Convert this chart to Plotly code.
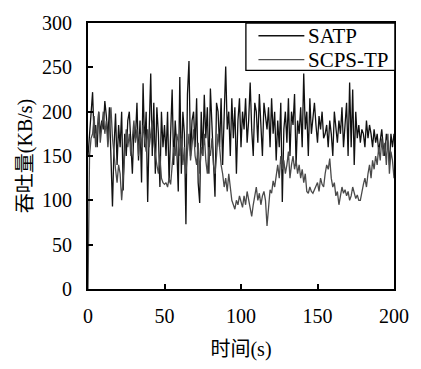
import plotly.graph_objects as go

time_s = list(range(0, 201))

satp = [
    150, 175, 205, 222, 170, 185, 160, 200, 175, 190,
    180, 212, 195, 170, 205, 150, 93, 160, 198, 140,
    185, 160, 200, 111, 175, 150, 190, 200, 165, 130,
    180, 170, 210, 145, 190, 120, 232, 160, 200, 98,
    180, 243, 150, 210, 130, 205, 175, 115, 200, 160,
    185, 150, 200, 120, 175, 225, 140, 190, 160, 110,
    239, 130, 200, 175, 73, 220, 257, 150, 190, 200,
    160, 215, 120, 97, 200, 150, 219, 170, 205, 130,
    226, 180, 150, 104, 210, 200, 160, 215, 140, 190,
    251, 180, 200, 150, 215, 170, 205, 130, 190, 215,
    160, 200, 180, 215, 165, 190, 233, 180, 150, 210,
    200, 165, 220, 185, 150, 210, 195, 180, 205, 160,
    215, 175, 200, 145, 190, 160, 210, 98, 180, 200,
    165, 215, 150, 200, 185, 220, 140, 190, 175, 205,
    160, 243, 180, 200, 150, 215, 175, 190, 210, 185,
    165, 195, 180, 200, 170, 175, 185, 160, 190, 175,
    150, 200, 180, 165, 190, 175, 205, 160, 185, 210,
    150, 233, 160, 225, 140, 200, 170, 185, 165, 180,
    175, 160, 190, 170, 185, 175, 160, 180, 165, 175,
    155, 170, 180, 160, 150, 175, 165, 140, 175, 160,
    175,
]

scps_tp = [
    0, 150, 170, 175, 195, 160, 180, 200, 165, 185,
    200, 175, 190, 160, 180, 205, 170, 150, 135, 120,
    140, 130, 100, 125, 150, 180, 160, 175, 150, 170,
    190, 165, 180, 150, 175, 160, 185, 170, 155, 180,
    160, 175, 190, 165, 150, 140, 130, 150, 125, 120,
    118, 120, 115, 125, 118, 140, 160, 150, 175, 165,
    150, 170, 140, 160, 130, 155, 175, 145, 165, 180,
    150, 140, 165, 130, 160, 150, 175, 145, 130, 160,
    150, 170, 140, 130, 150, 175, 160, 140, 130, 115,
    125, 110, 130, 115, 100, 95, 90, 100, 95, 105,
    98, 92, 105, 95, 110, 100, 90, 82, 95, 105,
    115, 100, 108, 95, 105, 110, 100, 71, 95, 112,
    108, 122, 115, 130, 140, 125, 150, 135, 145, 130,
    140, 155, 125, 140, 150, 135, 145, 130, 140, 125,
    135, 120, 130, 110, 108, 115, 110, 108, 112, 115,
    120, 110, 125, 118, 115, 130, 140, 135, 147, 125,
    115, 120, 105, 110, 95, 105, 115, 108, 112, 105,
    110, 100, 105, 115, 108, 102, 106, 100, 100, 110,
    118, 125, 115, 130, 140, 125, 145, 135, 150, 140,
    160, 145, 170, 150, 165, 140, 175, 130, 155, 145,
    125,
]

series_names = ["SATP", "SCPS-TP"]
series_colors = ["#111111", "#4a4a4a"]

x_ticks = [0, 50, 100, 150, 200]
y_ticks = [0, 50, 100, 150, 200, 250, 300]

font_main = "Liberation Serif, Noto Sans CJK SC, serif"

fig = go.Figure()
for name, vals, col in zip(series_names, [satp, scps_tp], series_colors):
    fig.add_trace(go.Scatter(x=time_s, y=vals, mode="lines", name=name,
                             showlegend=False,
                             line=dict(color=col, width=1.3)))

# Legend box drawn in paper coordinates (compact, like the original)
fig.add_shape(type="rect", xref="paper", yref="paper",
              x0=0.516, x1=1.003, y0=0.822, y1=1.0,
              line=dict(color="black", width=1.3), fillcolor="white", layer="above")
legend_rows = [0.952, 0.862]
for name, col, yy in zip(series_names, series_colors, legend_rows):
    fig.add_shape(type="line", xref="paper", yref="paper",
                  x0=0.557, x1=0.707, y0=yy, y1=yy,
                  line=dict(color=col, width=1.3), layer="above")
    fig.add_annotation(xref="paper", yref="paper", x=0.713, y=yy,
                       xanchor="left", yanchor="middle", showarrow=False,
                       text=name, font=dict(family="Liberation Serif, serif",
                                            size=21, color="black"))

fig.update_layout(
    width=421, height=369,
    margin=dict(l=88, r=19, t=15, b=80),
    paper_bgcolor="white", plot_bgcolor="white",
    font=dict(family=font_main, size=20, color="black"),
    showlegend=False,
    xaxis=dict(range=[0, 200], tickvals=x_ticks, ticks="inside", ticklen=5,
               tickwidth=1.5, tickcolor="black", ticklabelstandoff=8,
               showline=True, linecolor="black", linewidth=2, mirror=True,
               showgrid=False, zeroline=False,
               title=dict(text="时间(s)", standoff=16, font=dict(size=20))),
    yaxis=dict(range=[0, 300], tickvals=y_ticks, ticks="inside", ticklen=5,
               tickwidth=1.5, tickcolor="black", ticklabelstandoff=10,
               showline=True, linecolor="black", linewidth=2, mirror=True,
               showgrid=False, zeroline=False,
               title=dict(text="吞吐量(KB/s)", standoff=4, font=dict(size=20))),
)

fig.write_html("out.html")
